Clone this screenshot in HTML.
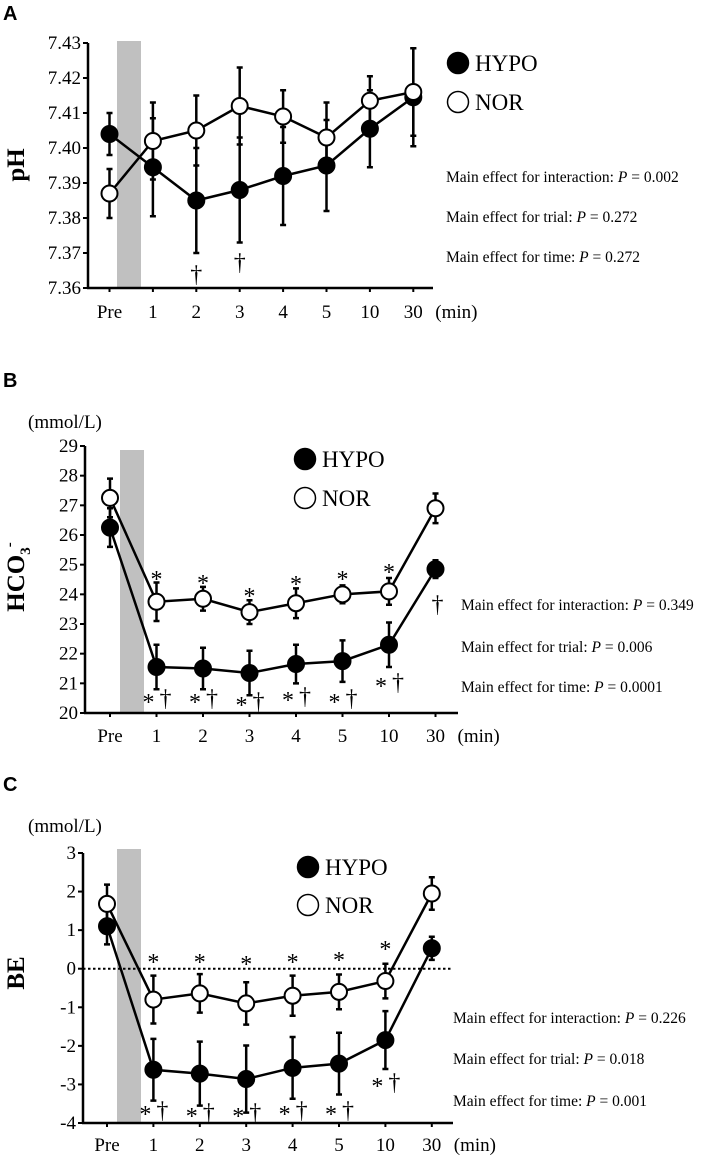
<!DOCTYPE html>
<html><head><meta charset="utf-8"><style>
html,body{margin:0;padding:0;background:#fff;}
svg{display:block;font-family:"Liberation Serif",serif;}
</style></head><body>
<svg id="chart" width="724" height="1159" viewBox="0 0 724 1159" xmlns="http://www.w3.org/2000/svg"></svg>
<script>
const categories = ["Pre","1","2","3","4","5","10","30"];
// Panel A: pH
const phHypo = [7.404,7.3945,7.385,7.388,7.392,7.395,7.4055,7.4145];
const phHypoErr = [0.006,0.014,0.015,0.015,0.014,0.013,0.011,0.014];
const phNor = [7.387,7.402,7.405,7.412,7.409,7.403,7.4135,7.416];
const phNorErr = [0.007,0.011,0.010,0.011,0.0075,0.010,0.007,0.0125];
const phTicks = ["7.36","7.37","7.38","7.39","7.40","7.41","7.42","7.43"];
const phStats = ["0.002","0.272","0.272"];
// Panel B: HCO3-
const hcoHypo = [26.25,21.55,21.5,21.35,21.65,21.75,22.3,24.85];
const hcoHypoErr = [0.65,0.75,0.7,0.75,0.65,0.7,0.75,0.3];
const hcoNor = [27.25,23.75,23.85,23.4,23.7,24.0,24.1,26.9];
const hcoNorErr = [0.65,0.65,0.4,0.4,0.5,0.3,0.45,0.5];
const hcoTicks = ["20","21","22","23","24","25","26","27","28","29"];
const hcoStats = ["0.349","0.006","0.0001"];
// Panel C: BE
const beHypo = [1.1,-2.62,-2.72,-2.86,-2.57,-2.46,-1.85,0.53];
const beHypoErr = [0.47,0.8,0.83,0.87,0.8,0.8,0.75,0.3];
const beNor = [1.68,-0.8,-0.64,-0.9,-0.7,-0.6,-0.32,1.95];
const beNorErr = [0.5,0.62,0.5,0.55,0.52,0.45,0.45,0.42];
const beTicks = ["-4","-3","-2","-1","0","1","2","3"];
const beStats = ["0.226","0.018","0.001"];

const NS="http://www.w3.org/2000/svg";
const svg=document.getElementById('chart');
function el(tag,attrs,parent){const e=document.createElementNS(NS,tag);for(const k in attrs)e.setAttribute(k,attrs[k]);(parent||svg).appendChild(e);return e;}

function panel(cfg){
  const g=el('g',{});
  
  
  const tv=cfg.ticks.map(Number);
  const vmin=tv[0], vmax=tv[tv.length-1];
  const y=v=>cfg.yBot-(v-vmin)/(vmax-vmin)*(cfg.yBot-cfg.yTop);
  const x=i=>cfg.x0+i*cfg.dx;
  const pl=el('text',{x:3,y:cfg.letterY,'font-family':'"Liberation Sans",sans-serif','font-weight':'bold','font-size':20},g);
  pl.textContent=cfg.letter;
  
  
  const gb=el('rect',{x:cfg.barX,y:cfg.barTop,width:24,height:cfg.yBot-cfg.barTop,fill:'#c0c0c0'},g);
  
  
  if(cfg.zero){const zl=el('line',{x1:cfg.axX,x2:cfg.axEnd,y1:y(0),y2:y(0),stroke:'#000','stroke-width':2,'stroke-dasharray':'2.5,2.5'},g);
    
    }
  const ya=el('line',{x1:cfg.axX,x2:cfg.axX,y1:cfg.yTop,y2:cfg.yBot+1,stroke:'#000','stroke-width':2.5},g);
  
  
  const xa=el('line',{x1:cfg.axX-1,x2:cfg.axEnd,y1:cfg.yBot,y2:cfg.yBot,stroke:'#000','stroke-width':2.5},g);
  
  
  cfg.ticks.forEach((t,i)=>{
    const yy=y(tv[i]);
    el('line',{x1:cfg.axX-5,x2:cfg.axX,y1:yy,y2:yy,stroke:'#000','stroke-width':2},g);
    const tl=el('text',{x:cfg.axX-7,y:yy+6,'text-anchor':'end','font-size':19},g);
    tl.textContent=t;
    
    
  });
  categories.forEach((c,i)=>{
    el('line',{x1:x(i),x2:x(i),y1:cfg.yBot,y2:cfg.yBot+4,stroke:'#000','stroke-width':2},g);
    const tl=el('text',{x:x(i),y:cfg.labY,'text-anchor':'middle','font-size':19},g);
    tl.textContent=c;
    
    
  });
  const mn=el('text',{x:x(7)+22,y:cfg.labY,'font-size':19},g);
  mn.textContent='(min)';
  
  
  if(cfg.unitY){const u=el('text',{x:28,y:cfg.unitY,'font-size':19},g);u.textContent='(mmol/L)';
    
    }
  const yt=el('text',{x:0,y:0,'font-size':25,'font-weight':'bold','text-anchor':'middle',transform:`translate(24,${cfg.titleY}) rotate(-90)`},g);
  yt.innerHTML=cfg.title;
  
  
  function series(vals,errs,fill,nm){
    const pts=vals.map((v,i)=>x(i)+','+y(v)).join(' ');
    const ln=el('polyline',{points:pts,fill:'none',stroke:'#000','stroke-width':2.5},g);
    
    
    vals.forEach((v,i)=>{
      const t=y(v+errs[i]),b=y(v-errs[i]);
      const eb=el('path',{d:`M${x(i)},${t}V${b}M${x(i)-3},${t}h6M${x(i)-3},${b}h6`,stroke:'#000','stroke-width':2.5,fill:'none'},g);
      
      
    });
    vals.forEach((v,i)=>{
      const c=el('circle',{cx:x(i),cy:y(v),r:8,fill:fill,stroke:'#000','stroke-width':2},g);
      
      
    });
  }
  series(cfg.hypo,cfg.hypoErr,'#000','hypo');
  series(cfg.nor,cfg.norErr,'#fff','nor');
  (cfg.marks||[]).forEach(m=>{
    const parts=m[2]==='*†'?[['*',-8],['†',9]]:[[m[2],m[3]||0]];
    parts.forEach(p=>{
      const a=el('text',{x:x(m[0])+p[1],y:m[1]+(p[0]==='*'?4:0),'text-anchor':'middle','font-size':24},g);
      a.textContent=p[0];
      
      
    });
  });
  [['HYPO','#000',0],['NOR','#fff',1]].forEach(L=>{
    const ly=cfg.legY+L[2]*cfg.legDy;
    const lc=el('circle',{cx:cfg.legX,cy:ly,r:10.5,fill:L[1],stroke:'#000','stroke-width':1.5},g);
    
    
    const lt=el('text',{x:cfg.legX+17,y:ly+8,'font-size':23},g);
    lt.textContent=L[0];
    
    
  });
  const lbl=['interaction','trial','time'];
  cfg.stats.forEach((s,i)=>{
    const st=el('text',{x:cfg.statX,y:cfg.statY[i],'font-size':15.5},g);
    st.innerHTML=`Main effect for ${lbl[i]}: <tspan font-style="italic">P</tspan> = ${s}`;
    
    
  });
}

panel({name:'ph',letter:'A',letterY:20,ticks:phTicks,yTop:43,yBot:288,axX:88,axEnd:433,x0:109.5,dx:43.4,barX:117,barTop:41,labY:318,
  title:'pH',titleY:165,hypo:phHypo,hypoErr:phHypoErr,nor:phNor,norErr:phNorErr,
  marks:[[2,282,'†'],[3,270,'†']],legX:458,legY:63,legDy:39,stats:phStats,statX:446,statY:[182,222,262]});

panel({name:'hco3',letter:'B',letterY:387,ticks:hcoTicks,yTop:446,yBot:713,axX:85,axEnd:458,x0:110,dx:46.5,barX:120,barTop:450,labY:742,unitY:428,
  title:'HCO<tspan font-size="15" dy="6">3</tspan><tspan font-size="15" dy="-16">-</tspan>',titleY:577,
  hypo:hcoHypo,hypoErr:hcoHypoErr,nor:hcoNor,norErr:hcoNorErr,
  marks:[[1,583,'*'],[2,587,'*'],[3,600,'*'],[4,588,'*'],[5,583,'*'],[6,576,'*'],
    [1,706,'*†'],[2,706,'*†'],[3,709,'*†'],[4,704,'*†'],[5,706,'*†'],[6,690,'*†'],[7,612,'†',2]],
  legX:305,legY:459,legDy:39,stats:hcoStats,statX:461,statY:[610,652,692]});

panel({name:'be',letter:'C',letterY:791,ticks:beTicks,yTop:853,yBot:1123,axX:83,axEnd:453,x0:107,dx:46.4,barX:117,barTop:849,labY:1151,unitY:832,zero:true,
  title:'BE',titleY:973,hypo:beHypo,hypoErr:beHypoErr,nor:beNor,norErr:beNorErr,
  marks:[[1,966,'*'],[2,966,'*'],[3,968,'*'],[4,966,'*'],[5,964,'*'],[6,953,'*'],
    [1,1118,'*†'],[2,1120,'*†'],[3,1120,'*†'],[4,1118,'*†'],[5,1118,'*†'],[6,1090,'*†']],
  legX:308,legY:867,legDy:38,stats:beStats,statX:453,statY:[1023,1064,1106]});
</script>
</body></html>
